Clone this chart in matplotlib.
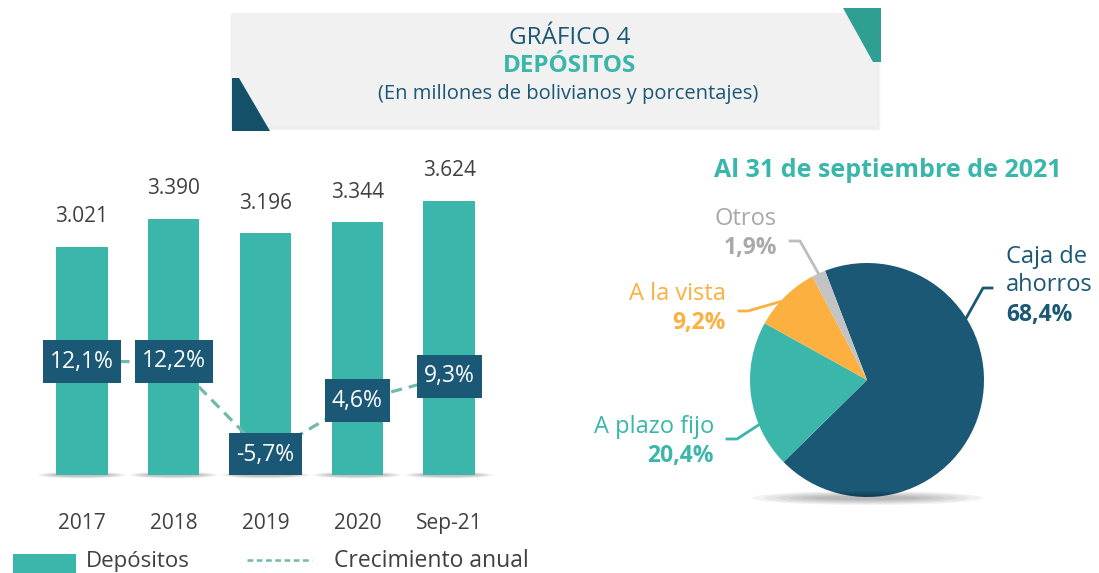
import numpy as np
import matplotlib
matplotlib.use('Agg')
import matplotlib.pyplot as plt
from matplotlib.patches import Rectangle, Polygon, Ellipse
from matplotlib.lines import Line2D
from matplotlib.transforms import ScaledTranslation

plt.rcParams['font.family'] = ['Open Sans', 'DejaVu Sans']

W, H = 1099, 573
DARK = '#1a5876'
TEAL = '#3bb6aa'
ORANGE = '#fbb040'
GREY = '#c3c3c3'
TXT = '#404040'

# datos
years = ['2017', '2018', '2019', '2020', 'Sep-21']
deposits = [3021, 3390, 3196, 3344, 3624]
deposit_labels = ['3.021', '3.390', '3.196', '3.344', '3.624']
growth = [12.1, 12.2, -5.7, 4.6, 9.3]
growth_labels = ['12,1%', '12,2%', '-5,7%', '4,6%', '9,3%']

pie_names = ['Caja de\nahorros', 'A plazo fijo', 'A la vista', 'Otros']
pie_values = [68.4, 20.4, 9.2, 1.9]
pie_labels = ['68,4%', '20,4%', '9,2%', '1,9%']
pie_colors = [DARK, TEAL, ORANGE, GREY]
pie_text_colors = [DARK, TEAL, ORANGE, '#a9a9a9']


def fx(x):
    return x / W


def fy(y):
    return 1 - y / H


def fline(xs, ys, **kw):
    fig.add_artist(Line2D([fx(v) for v in xs], [fy(v) for v in ys],
                          transform=fig.transFigure, **kw))


fig = plt.figure(figsize=(W / 100, H / 100), dpi=100)

# ---- cabecera
for k in range(6):
    fig.add_artist(Rectangle((fx(232 - 2 + k * 0.3), fy(129 + 2 - k * 0.5)),
                             (645 + 4) / W, (116) / H, transform=fig.transFigure,
                             facecolor='#000000', alpha=0.012, lw=0))
fig.add_artist(Rectangle((fx(232), fy(126)), 645 / W, 113 / H,
                         transform=fig.transFigure, facecolor='#f1f1f1', lw=0))
fig.add_artist(Polygon([(fx(843), fy(8)), (fx(881), fy(8)), (fx(881), fy(62)), (fx(873), fy(62))],
                       closed=True, transform=fig.transFigure, facecolor='#2f9f94', lw=0))
fig.add_artist(Polygon([(fx(232), fy(78)), (fx(239), fy(78)), (fx(270), fy(131)), (fx(232), fy(131))],
                       closed=True, transform=fig.transFigure, facecolor='#145068', lw=0))
fig.text(fx(570), fy(38), 'GRÁFICO 4', ha='center', va='center', fontsize=17.5, color=DARK)
fig.text(fx(570), fy(66), 'DEPÓSITOS', ha='center', va='center', fontsize=17.5,
         color=TEAL, fontweight='bold')
fig.text(fx(568), fy(94), '(En millones de bolivianos y porcentajes)', ha='center',
         va='center', fontsize=14.5, color=DARK)

# ---- barras
ax = fig.add_axes([fx(36), fy(475), (495 - 36) / W, (475 - 150) / H])
x = np.arange(len(years))
for xi in x:
    for k in range(5):
        ax.add_patch(Ellipse((xi, 0), 0.95 - k * 0.08, 90 - k * 12, facecolor='#000000',
                             alpha=0.05, lw=0, clip_on=False, zorder=0))
ax.bar(x, deposits, width=0.56, color=TEAL, zorder=2)
ax.set_xlim(-0.5, 4.5)
ax.set_ylim(0, 4300)
for xi, v, lab in zip(x, deposits, deposit_labels):
    ax.text(xi, v + 400, lab, ha='center', va='center', fontsize=15, color=TXT)
for xi, lab in zip(x, years):
    ax.text(xi, -640, lab, ha='center', va='center', fontsize=15, color=TXT)
ax.axis('off')

ax2 = ax.twinx()
ax2.set_ylim(-9.6, 52.7)
ax2.plot(x, growth, color='#72b8ad', lw=2.3, dashes=(3.5, 2.2), zorder=3)
labels = []
for xi, v, lab in zip(x, growth, growth_labels):
    labels.append(ax2.text(xi, v, lab, ha='center', va='center', fontsize=16.5,
                           color='white', zorder=5))
ax2.axis('off')

# cajas oscuras detrás de las etiquetas de crecimiento
fig.canvas.draw()
rend = fig.canvas.get_renderer()
for t, xi, v in zip(labels, x, growth):
    w_in = (t.get_window_extent(rend).width + 14) / fig.dpi
    h_in = 0.43
    ax2.add_patch(Rectangle((-w_in / 2, -h_in / 2), w_in, h_in, facecolor=DARK, lw=0, zorder=4,
                            transform=fig.dpi_scale_trans + ScaledTranslation(xi, v, ax2.transData)))

# leyenda
fig.add_artist(Rectangle((fx(13), fy(573)), 63 / W, 19 / H, transform=fig.transFigure,
                         facecolor=TEAL, lw=0))
fig.text(fx(86), fy(561), 'Depósitos', ha='left', va='center', fontsize=16, color=TXT)
fline([247, 312], [560, 560], color='#72b8ad', lw=1.8, dashes=(2.3, 1.4))
fig.text(fx(334), fy(561), 'Crecimiento anual', ha='left', va='center', fontsize=16.5, color=TXT)

# ---- torta
fig.text(fx(888), fy(170), 'Al 31 de septiembre de 2021', ha='center', va='center',
         fontsize=18, color=TEAL, fontweight='bold')
cx, cy, r = 867, 380, 117
for k in range(6):
    fig.add_artist(Ellipse((fx(cx), fy(cy + r + 1)), (230 - k * 25) / W, (14 - k * 2) / H,
                           transform=fig.transFigure, facecolor='#000000', alpha=0.05, lw=0))
pax = fig.add_axes([fx(cx - r), fy(cy + r), 2 * r / W, 2 * r / H])
pax.pie(pie_values, colors=pie_colors, startangle=111, counterclock=False,
        wedgeprops=dict(linewidth=0))
pax.set_xlim(-1, 1)
pax.set_ylim(-1, 1)

# etiquetas de la torta: ángulo de la línea guía, codo, posición de texto
anchors = [32, 202.5, 138, 114.5]
elbows = [(983, 288, 992), (737, 439, 727), (748, 311, 739), (800, 241, 790)]
names_pos = [(1006, 256, 'left'), (714, 427, 'right'), (726, 294, 'right'), (777, 219, 'right')]
for i in range(4):
    a = np.deg2rad(anchors[i])
    ex, ey = cx + r * np.cos(a), cy - r * np.sin(a)
    bx, by, tx = elbows[i]
    fline([ex, bx, tx], [ey, by, by], color=pie_colors[i] if i != 3 else '#bdbdbd', lw=2)
    nx, ny, ha = names_pos[i]
    nlines = pie_names[i].count('\n') + 1
    fig.text(fx(nx), fy(ny + (nlines - 1) * 15), pie_names[i], ha=ha, va='center', fontsize=17,
             color=pie_text_colors[i], linespacing=1.2)
    fig.text(fx(nx), fy(ny + nlines * 30 - 1), pie_labels[i], ha=ha, va='center', fontsize=16.5,
             color=pie_text_colors[i], fontweight='bold')

fig.savefig('out.png', dpi=100)
